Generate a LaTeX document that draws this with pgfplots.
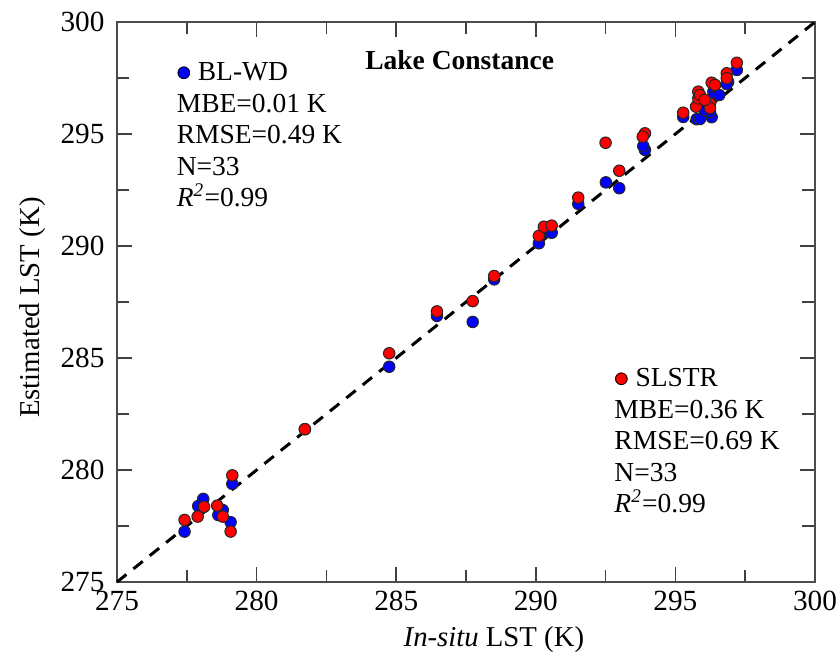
\documentclass[border=0pt]{standalone}
\usepackage{fontspec}
\setmainfont{Liberation Serif}
\newfontfamily\symfont{DejaVu Sans}
\usepackage{pgfplots}
\usepackage{pgfplotstable}
\pgfplotsset{compat=1.18}

% BL-WD estimates
\pgfplotstableread{
x y
279.13 279.38
278.09 278.71
277.91 278.39
278.79 278.21
278.63 277.99
279.07 277.67
277.42 277.25
281.73 281.82
284.75 284.61
286.46 286.88
287.74 286.61
288.51 288.51
290.11 290.12
290.29 290.58
290.57 290.59
291.52 291.88
292.51 292.84
292.99 292.58
293.91 294.29
293.85 294.46
295.28 295.76
295.76 295.66
295.88 295.67
296.30 295.75
296.24 295.98
296.36 296.89
296.36 296.65
296.89 297.33
296.84 297.23
297.20 297.86
295.82 296.34
296.05 296.07
296.57 296.74
}\blwd

% SLSTR estimates
\pgfplotstableread{
x y
281.73 281.82
279.13 279.76
278.12 278.36
277.89 277.92
278.59 278.41
278.79 277.92
279.07 277.25
277.42 277.77
284.75 285.21
286.46 287.08
287.74 287.54
288.51 288.66
290.11 290.45
290.29 290.86
290.57 290.91
291.52 292.16
292.50 294.61
292.99 293.36
293.91 295.03
293.83 294.88
295.28 295.95
295.74 296.22
295.82 296.89
295.82 296.59
296.24 296.37
296.24 296.16
296.30 297.29
296.42 297.19
296.84 297.71
296.84 297.49
297.20 298.18
295.88 296.74
296.05 296.52
}\slstr

\newcommand{\legdot}[1]{{\symfont\fontsize{6.5}{7}\selectfont\raisebox{0.35ex}{\rlap{\textcolor{#1}{●}}○}}}

\begin{document}
\begin{tikzpicture}
\begin{axis}[
  scale only axis, width=279.2pt, height=224pt,
  xmin=275, xmax=300, ymin=275, ymax=300,
  xtick distance=5, ytick distance=5, minor tick num=1,
  tick align=inside, major tick length=6pt, minor tick length=5pt,
  axis line style={black!70, line width=0.8pt},
  every tick/.style={black!75, line width=0.6pt},
  tick label style={font=\fontsize{11.7}{14}\selectfont},
  yticklabel style={xshift=-1.5pt},
  /pgf/number format/assume math mode=true,
  /pgf/number format/1000 sep={},
  label style={font=\fontsize{11.5}{14}\selectfont},
  xlabel={\textit{In-situ} LST (K)},
  ylabel={Estimated LST (K)},
  xlabel style={at={(rel axis cs:0.54,0)}, anchor=center, yshift=-23pt},
  ylabel style={at={(rel axis cs:0,0.49)}, anchor=center, yshift=33.6pt},
  clip=false,
]
\addplot[black, dashed, line width=1.2pt, dash pattern=on 4.8pt off 3.6pt]
  coordinates {(275,275) (300,300)};
\addplot[only marks, mark=*, mark size=2.3pt,
  mark options={fill=blue, draw=black!85, line width=0.4pt}]
  table[x=x, y=y] {\blwd};
\addplot[only marks, mark=*, mark size=2.3pt,
  mark options={fill=red, draw=black!85, line width=0.4pt}]
  table[x=x, y=y] {\slstr};
\node[font=\bfseries\fontsize{11}{13}\selectfont] at (rel axis cs:0.491,0.932) {Lake Constance};
\node[anchor=north west, align=left, inner sep=0pt, font=\fontsize{11}{12.6}\selectfont]
  at (rel axis cs:0.085,0.928)
  {\legdot{blue}\ BL-WD\\ MBE=0.01 K\\ RMSE=0.49 K\\ N=33\\ \textit{R}\textsuperscript{\textit{2}}=0.99};
\node[anchor=north west, align=left, inner sep=0pt, font=\fontsize{11}{12.6}\selectfont]
  at (rel axis cs:0.712,0.382)
  {\legdot{red}\ SLSTR\\ MBE=0.36 K\\ RMSE=0.69 K\\ N=33\\ \textit{R}\textsuperscript{\textit{2}}=0.99};
\end{axis}
\pgfresetboundingbox
\path ([shift={(-46.8pt,-30pt)}]current axis.south west)
  rectangle ([shift={(9.2pt,8.8pt)}]current axis.north east);
\end{tikzpicture}
\end{document}
